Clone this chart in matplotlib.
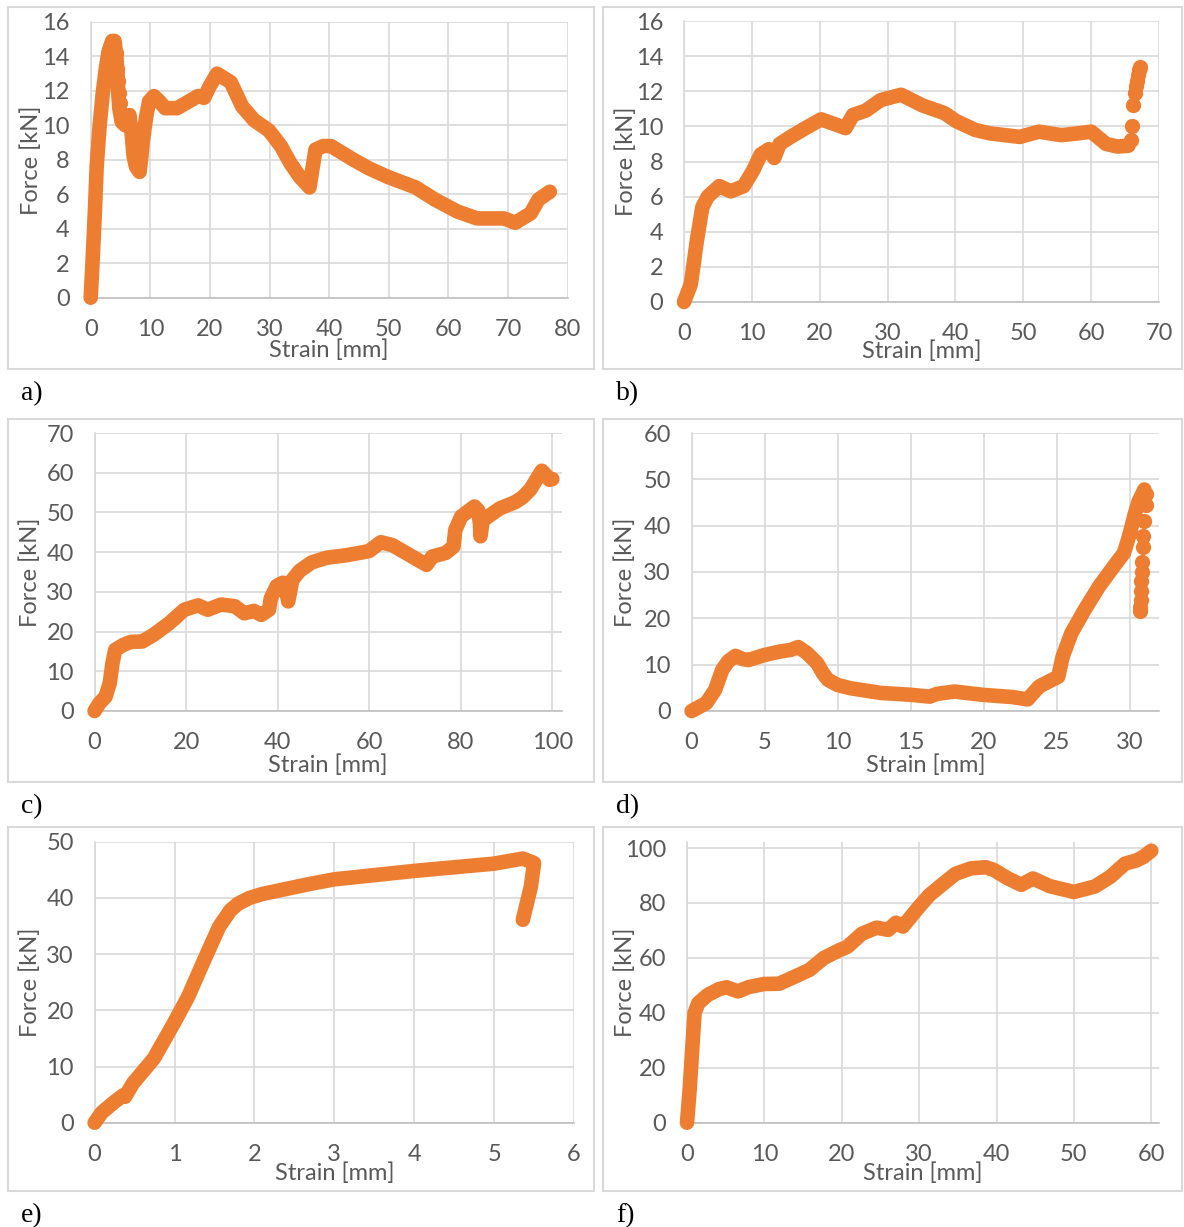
import matplotlib
matplotlib.use("Agg")
import matplotlib.pyplot as plt
from matplotlib.patches import Rectangle

# datos (deformación [mm], fuerza [kN])
a_x = [0, 0.3, 0.7, 1.0, 1.5, 2.0, 2.5, 3.0, 3.6, 4.0, 4.3, 4.5, 4.6, 4.8, 5.2, 5.8, 6.5, 6.8, 7.0,
       7.2, 7.6, 8.2, 8.5, 8.7, 9.3, 9.8, 10.6, 11.5, 12.5, 14.5, 16.0, 18.0, 19.0, 20.0, 21.2, 23.5,
       25.4, 27.4, 29.9, 31.9, 33.5, 35.1, 36.7, 37.7, 39.0, 40.3, 44.1, 46.7, 49.9, 54.5, 57.7, 61.5,
       64.8, 69.3, 71.2, 73.8, 75.1, 77.0]
a_y = [0, 2.0, 5.0, 7.6, 10.0, 11.8, 13.2, 14.3, 14.9, 14.9, 14.0, 13.0, 12.0, 11.0, 10.2, 10.0, 10.6,
       9.8, 9.0, 8.2, 7.6, 7.3, 8.2, 9.0, 10.5, 11.4, 11.7, 11.4, 11.0, 11.0, 11.3, 11.7, 11.6, 12.3,
       13.0, 12.5, 11.1, 10.3, 9.7, 8.8, 7.8, 7.0, 6.4, 8.6, 8.8, 8.8, 8.0, 7.5, 7.0, 6.4, 5.7, 5.0,
       4.6, 4.6, 4.35, 4.9, 5.7, 6.15]
a_tail_x = [4.2, 4.4, 4.5, 4.7, 4.9]
a_tail_y = [14.2, 13.3, 12.6, 11.9, 11.3]

b_x = [0, 1.0, 1.9, 2.7, 3.5, 5.2, 6.9, 8.8, 10.2, 11.3, 12.5, 13.3, 14.1, 15.7, 17.9, 20.2, 22.4,
       23.8, 24.9, 26.8, 29.0, 32.0, 35.1, 38.4, 40.1, 42.9, 45.1, 49.5, 52.3, 55.6, 58.0, 60.0, 62.2,
       63.9, 65.5]
b_y = [0, 1.0, 3.5, 5.4, 6.0, 6.6, 6.3, 6.6, 7.5, 8.4, 8.7, 8.2, 9.0, 9.4, 9.9, 10.4, 10.1, 9.9,
       10.65, 10.9, 11.5, 11.8, 11.2, 10.75, 10.3, 9.8, 9.6, 9.4, 9.7, 9.5, 9.6, 9.7, 9.0, 8.85, 8.9]
b_tail_x = [65.8, 66.0, 66.2, 66.4, 66.6, 66.7, 66.9, 67.0, 67.2]
b_tail_y = [9.2, 10.0, 11.2, 11.9, 12.3, 12.6, 12.9, 13.2, 13.4]

c_x = [0, 1.0, 2.4, 3.3, 3.9, 4.5, 6.2, 7.9, 10.4, 12.9, 16.3, 19.6, 22.6, 24.7, 27.6, 30.6, 32.7,
       34.8, 36.4, 38.1, 38.5, 39.8, 41.1, 41.8, 42.3, 43.2, 44.8, 47.4, 50.7, 54.9, 58.3, 60.0, 62.5,
       65.0, 68.3, 72.5, 73.8, 76.7, 78.4, 78.8, 80.1, 83.0, 83.8, 84.2, 84.3, 84.8, 86.4, 88.5, 91.9,
       93.5, 95.2, 97.7, 98.6, 99.4, 100.0]
c_y = [0, 1.9, 3.6, 7.0, 12.0, 15.4, 16.6, 17.4, 17.5, 19.2, 22.1, 25.5, 26.6, 25.5, 26.8, 26.4,
       24.6, 25.2, 24.2, 25.5, 28.4, 31.5, 32.3, 30.5, 27.6, 33.0, 35.3, 37.4, 38.6, 39.2, 39.9, 40.3,
       42.5, 41.8, 39.6, 36.8, 38.9, 39.8, 41.4, 45.6, 49.0, 51.5, 50.5, 47.0, 44.0, 48.0, 49.3, 51.0,
       52.6, 53.8, 55.8, 60.5, 59.4, 58.2, 58.4]

d_x = [0, 1.0, 1.6, 2.1, 2.5, 3.0, 3.5, 3.9, 5.0, 6.0, 6.8, 7.3, 7.9, 8.6, 9.0, 9.35, 10.0, 10.9,
       12.95, 15.0, 16.3, 16.8, 18.0, 19.9, 22.0, 23.0, 23.8, 25.1, 25.4, 26.0, 26.9, 27.9, 28.9,
       29.6, 29.95, 30.3, 30.6, 31.0]
d_y = [0, 1.7, 4.5, 8.9, 10.7, 11.9, 11.2, 11.0, 12.1, 12.8, 13.2, 13.8, 12.5, 10.3, 8.1, 6.7, 5.6,
       4.9, 3.9, 3.5, 3.1, 3.7, 4.2, 3.5, 3.0, 2.5, 5.3, 7.4, 11.7, 16.8, 21.8, 26.9, 31.2, 34.1,
       37.7, 42.0, 45.2, 47.8]
d_tail_x = [31.1, 31.1, 31.0, 30.9, 30.9, 30.85, 30.83, 30.8, 30.78, 30.75, 30.72, 30.7]
d_tail_y = [46.8, 44.5, 41.1, 37.8, 35.5, 32.1, 30.0, 28.0, 26.0, 24.0, 22.5, 21.5]

e_x = [0, 0.09, 0.24, 0.36, 0.38, 0.48, 0.74, 0.98, 1.17, 1.37, 1.56, 1.70, 1.80, 1.94, 2.1, 2.3,
       2.7, 3.0, 4.0, 5.0, 5.36, 5.5, 5.46, 5.36]
e_y = [0, 1.8, 3.6, 4.9, 4.6, 7.0, 11.4, 17.4, 22.4, 28.9, 34.9, 37.8, 39.0, 40.0, 40.7, 41.3,
       42.5, 43.3, 44.8, 46.1, 47.0, 46.2, 42.0, 36.1]

f_x = [0, 0.34, 0.97, 1.46, 2.67, 4.1, 5.1, 6.6, 8.0, 9.96, 11.9, 13.8, 15.8, 17.7, 19.7, 20.7,
       22.6, 24.5, 26.0, 27.0, 27.9, 29.9, 31.3, 32.8, 34.7, 36.7, 38.6, 39.6, 41.5, 43.2, 44.7,
       46.9, 50.0, 52.7, 54.7, 56.6, 58.1, 59.0, 60.0]
f_y = [0, 11.9, 39.9, 43.5, 46.5, 48.6, 49.3, 47.8, 49.4, 50.5, 50.6, 53.0, 55.6, 60.0, 62.8, 64.0,
       68.8, 71.0, 70.2, 72.8, 71.4, 78.3, 82.8, 86.3, 90.6, 92.6, 93.0, 92.1, 88.9, 86.6, 88.9,
       86.1, 84.0, 86.0, 89.5, 94.3, 95.5, 96.8, 99.0]

# estilo general
W, H = 1184, 1227
ORANGE = '#ED7D31'
GRID = '#d9d9d9'
TXT = '#595959'
plt.rcParams['font.family'] = ['Lato', 'DejaVu Sans']

fig = plt.figure(figsize=(W / 100, H / 100), dpi=100)


def panel(px, xlim, ylim, xticks, yticks, xs, ys, tail=None, xlab_off=50, ylab_off=60):
    # px = (izq, der, arriba, abajo) en pixeles de la imagen
    l, r, t, b = px
    ax = fig.add_axes([l / W, 1 - b / H, (r - l) / W, (b - t) / H])
    ax.plot(xs, ys, color=ORANGE, lw=10.5, solid_capstyle='round', solid_joinstyle='round',
            zorder=3, clip_on=False)
    if tail is not None:
        ax.plot(tail[0], tail[1], 'o', color=ORANGE, ms=11, mew=0, zorder=3, clip_on=False)
    ax.set_xlim(xlim)
    ax.set_ylim(ylim)
    ax.set_xticks(xticks)
    ax.set_yticks(yticks)
    ax.grid(color=GRID, lw=1.2)
    ax.set_axisbelow(True)
    for s in ['top', 'right']:
        ax.spines[s].set_visible(False)
    ax.spines['left'].set_color(GRID)
    ax.spines['left'].set_linewidth(1.2)
    ax.spines['bottom'].set_color('#bfbfbf')
    ax.spines['bottom'].set_linewidth(1.2)
    ax.tick_params(length=0, labelsize=17, labelcolor=TXT)
    ax.tick_params(axis='x', pad=15)
    ax.tick_params(axis='y', pad=15)
    ax.set_xlabel('Strain [mm]', fontsize=17, color=TXT, va='center')
    ax.set_ylabel('Force [kN]', fontsize=17, color=TXT, va='center')
    ax.xaxis.set_label_coords(0.5, -xlab_off / (b - t))
    ax.yaxis.set_label_coords(-ylab_off / (r - l), 0.5)
    return ax


panel((90.7, 567.7, 22, 297.7), (0, 80), (0, 16), range(0, 81, 10), range(0, 17, 2),
      a_x, a_y, tail=(a_tail_x, a_tail_y), xlab_off=52, ylab_off=60)
panel((684, 1159, 21, 302), (0, 70), (0, 16), range(0, 71, 10), range(0, 17, 2),
      b_x, b_y, tail=(b_tail_x, b_tail_y), xlab_off=49, ylab_off=58)
panel((94.6, 561.5, 433, 711), (0, 102), (0, 70), range(0, 101, 20), range(0, 71, 10),
      c_x, c_y, xlab_off=54, ylab_off=64)
panel((691.6, 1159, 433, 711), (0, 32), (0, 60), range(0, 31, 5), range(0, 61, 10),
      d_x, d_y, tail=(d_tail_x, d_tail_y), xlab_off=54, ylab_off=66)
panel((94.6, 574, 841.7, 1122.7), (0, 6), (0, 50), range(0, 7), range(0, 51, 10),
      e_x, e_y, xlab_off=50, ylab_off=64)
panel((687, 1159, 841.7, 1122.7), (0, 61), (0, 102.3), range(0, 61, 10), range(0, 101, 20),
      f_x, f_y, xlab_off=50, ylab_off=62)

# marcos grises de cada gráfico y letras a)..f)
boxes = [(8, 594, 7, 369), (603, 1182, 7, 369), (8, 594, 419, 782),
         (603, 1182, 419, 782), (8, 594, 827, 1191), (603, 1182, 827, 1191)]
letters = ['a)', 'b)', 'c)', 'd)', 'e)', 'f)']
for (l, r, t, b), let in zip(boxes, letters):
    fig.patches.append(Rectangle((l / W, 1 - b / H), (r - l) / W, (b - t) / H, fill=False,
                                 edgecolor=GRID, lw=1.5, transform=fig.transFigure))
    fig.text((l + 13) / W, 1 - (b + 25) / H, let, fontsize=20, family='Liberation Serif',
             color='black', va='center', ha='left')

fig.savefig('out.png', dpi=100, facecolor='white')
